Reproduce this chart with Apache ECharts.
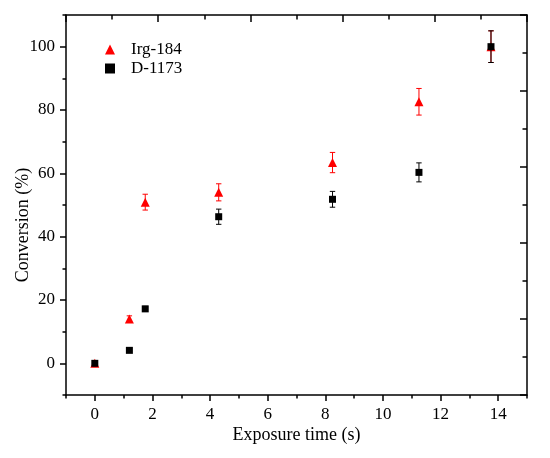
<!DOCTYPE html>
<html>
<head>
<meta charset="utf-8">
<script src="https://cdn.jsdelivr.net/npm/echarts@6/dist/echarts.min.js"></script>
<style>html,body{margin:0;padding:0;background:#fff}#c{width:550px;height:458px}</style>
</head>
<body>
<div id="c"></div>
<script>
const times = [0, 1.2, 1.75, 4.3, 8.25, 11.25, 13.75];
const irg184 = [0, 14.0, 50.9, 54.0, 63.4, 82.6, 100];
const irg184Err = [0.5, 1.0, 2.5, 2.7, 3.2, 4.2, 5.0];
const d1173 = [0, 4.1, 17.2, 46.3, 51.8, 60.3, 100];
const d1173Err = [0.5, 0.6, 0.8, 2.4, 2.5, 3.0, 5.0];
const xTicks = [0, 2, 4, 6, 8, 10, 12, 14];
const yTicks = [0, 20, 40, 60, 80, 100];
const seriesNames = ['Irg-184', 'D-1173'];

const FONT = "'Liberation Serif','Times New Roman',serif";
const pts = (ys) => times.map((t, i) => [t, ys[i]]);
const errPts = (ys, es) => times.map((t, i) => [t, ys[i], es[i]]);

function errRender(color) {
  return function (params, api) {
    const x = api.value(0), y = api.value(1), e = api.value(2);
    const top = api.coord([x, y + e]);
    const bot = api.coord([x, y - e]);
    const w = 2.7;
    const st = { stroke: color, lineWidth: 1 };
    return {
      type: 'group',
      children: [
        { type: 'line', shape: { x1: top[0], y1: top[1], x2: bot[0], y2: bot[1] }, style: st },
        { type: 'line', shape: { x1: top[0] - w, y1: top[1], x2: top[0] + w, y2: top[1] }, style: st },
        { type: 'line', shape: { x1: bot[0] - w, y1: bot[1], x2: bot[0] + w, y2: bot[1] }, style: st }
      ]
    };
  };
}

const lineStyle = { color: '#000', width: 1.5 };
const tickStyle = { color: '#000', width: 1.5 };
const chart = echarts.init(document.getElementById('c'), null, { renderer: 'canvas' });
chart.setOption({
  animation: false,
  textStyle: { fontFamily: FONT },
  grid: { left: 66, right: 23, top: 15, bottom: 63, containLabel: false, outerBoundsMode: 'none' },
  legend: {
    data: seriesNames,
    orient: 'vertical',
    left: 100, top: 36,
    itemWidth: 10, itemHeight: 10, itemGap: 2,
    textStyle: { fontFamily: FONT, fontSize: 17, color: '#000', padding: [0, 0, 0, 11] }
  },
  xAxis: [
    {
      type: 'value', position: 'bottom', min: -1, max: 15,
      axisLine: { onZero: false, lineStyle }, splitLine: { show: false },
      axisTick: { customValues: xTicks, length: 6, lineStyle: tickStyle },
      axisLabel: { customValues: xTicks, fontFamily: FONT, fontSize: 17, color: '#000', margin: 11 },
      name: 'Exposure time (s)', nameLocation: 'middle', nameGap: 31, nameMoveOverlap: false,
      nameTextStyle: { fontFamily: FONT, fontSize: 18, color: '#000' }
    },
    {
      type: 'value', position: 'bottom', min: -1, max: 15, interval: 1,
      axisLine: { show: false, onZero: false }, splitLine: { show: false },
      axisTick: { length: 3.5, lineStyle: tickStyle },
      axisLabel: { show: false }
    },
    {
      type: 'value', position: 'top', min: 0, max: 5, interval: 1,
      axisLine: { show: true, onZero: false, lineStyle }, splitLine: { show: false },
      axisTick: { show: true, inside: true, length: 7, lineStyle: tickStyle },
      minorTick: { show: true, splitNumber: 2, length: 4.5, lineStyle: tickStyle },
      axisLabel: { show: false }
    }
  ],
  yAxis: [
    {
      type: 'value', position: 'left', min: -10, max: 110,
      axisLine: { show: true, onZero: false, lineStyle }, splitLine: { show: false },
      axisTick: { show: true, customValues: yTicks, length: 6, lineStyle: tickStyle },
      axisLabel: { customValues: yTicks, fontFamily: FONT, fontSize: 17, color: '#000', margin: 11 },
      name: 'Conversion (%)', nameLocation: 'middle', nameGap: 34, nameMoveOverlap: false,
      nameTextStyle: { fontFamily: FONT, fontSize: 18, color: '#000', padding: [0, 40, 0, 0] }
    },
    {
      type: 'value', position: 'left', min: -10, max: 110, interval: 10,
      axisLine: { show: false, onZero: false }, splitLine: { show: false },
      axisTick: { show: true, length: 3.5, lineStyle: tickStyle },
      axisLabel: { show: false }
    },
    {
      type: 'value', position: 'right', min: 0, max: 5, interval: 1,
      axisLine: { show: true, onZero: false, lineStyle }, splitLine: { show: false },
      axisTick: { show: true, inside: true, length: 7, lineStyle: tickStyle },
      minorTick: { show: true, splitNumber: 2, length: 4.5, lineStyle: tickStyle },
      axisLabel: { show: false }
    }
  ],
  series: [
    {
      name: 'Irg-184 err', type: 'custom', xAxisIndex: 0, yAxisIndex: 0,
      renderItem: errRender('#ff0000'), data: errPts(irg184, irg184Err), z: 2
    },
    {
      name: 'Irg-184', type: 'scatter', xAxisIndex: 0, yAxisIndex: 0,
      symbol: 'triangle', symbolSize: 9, itemStyle: { color: '#ff0000', opacity: 1 },
      data: pts(irg184), z: 3
    },
    {
      name: 'D-1173 err', type: 'custom', xAxisIndex: 0, yAxisIndex: 0,
      renderItem: errRender('#000000'), data: errPts(d1173, d1173Err), z: 4
    },
    {
      name: 'D-1173', type: 'scatter', xAxisIndex: 0, yAxisIndex: 0,
      symbol: 'rect', symbolSize: 7, itemStyle: { color: '#000000', opacity: 1 },
      data: pts(d1173), z: 5
    }
  ]
});
</script>
</body>
</html>
